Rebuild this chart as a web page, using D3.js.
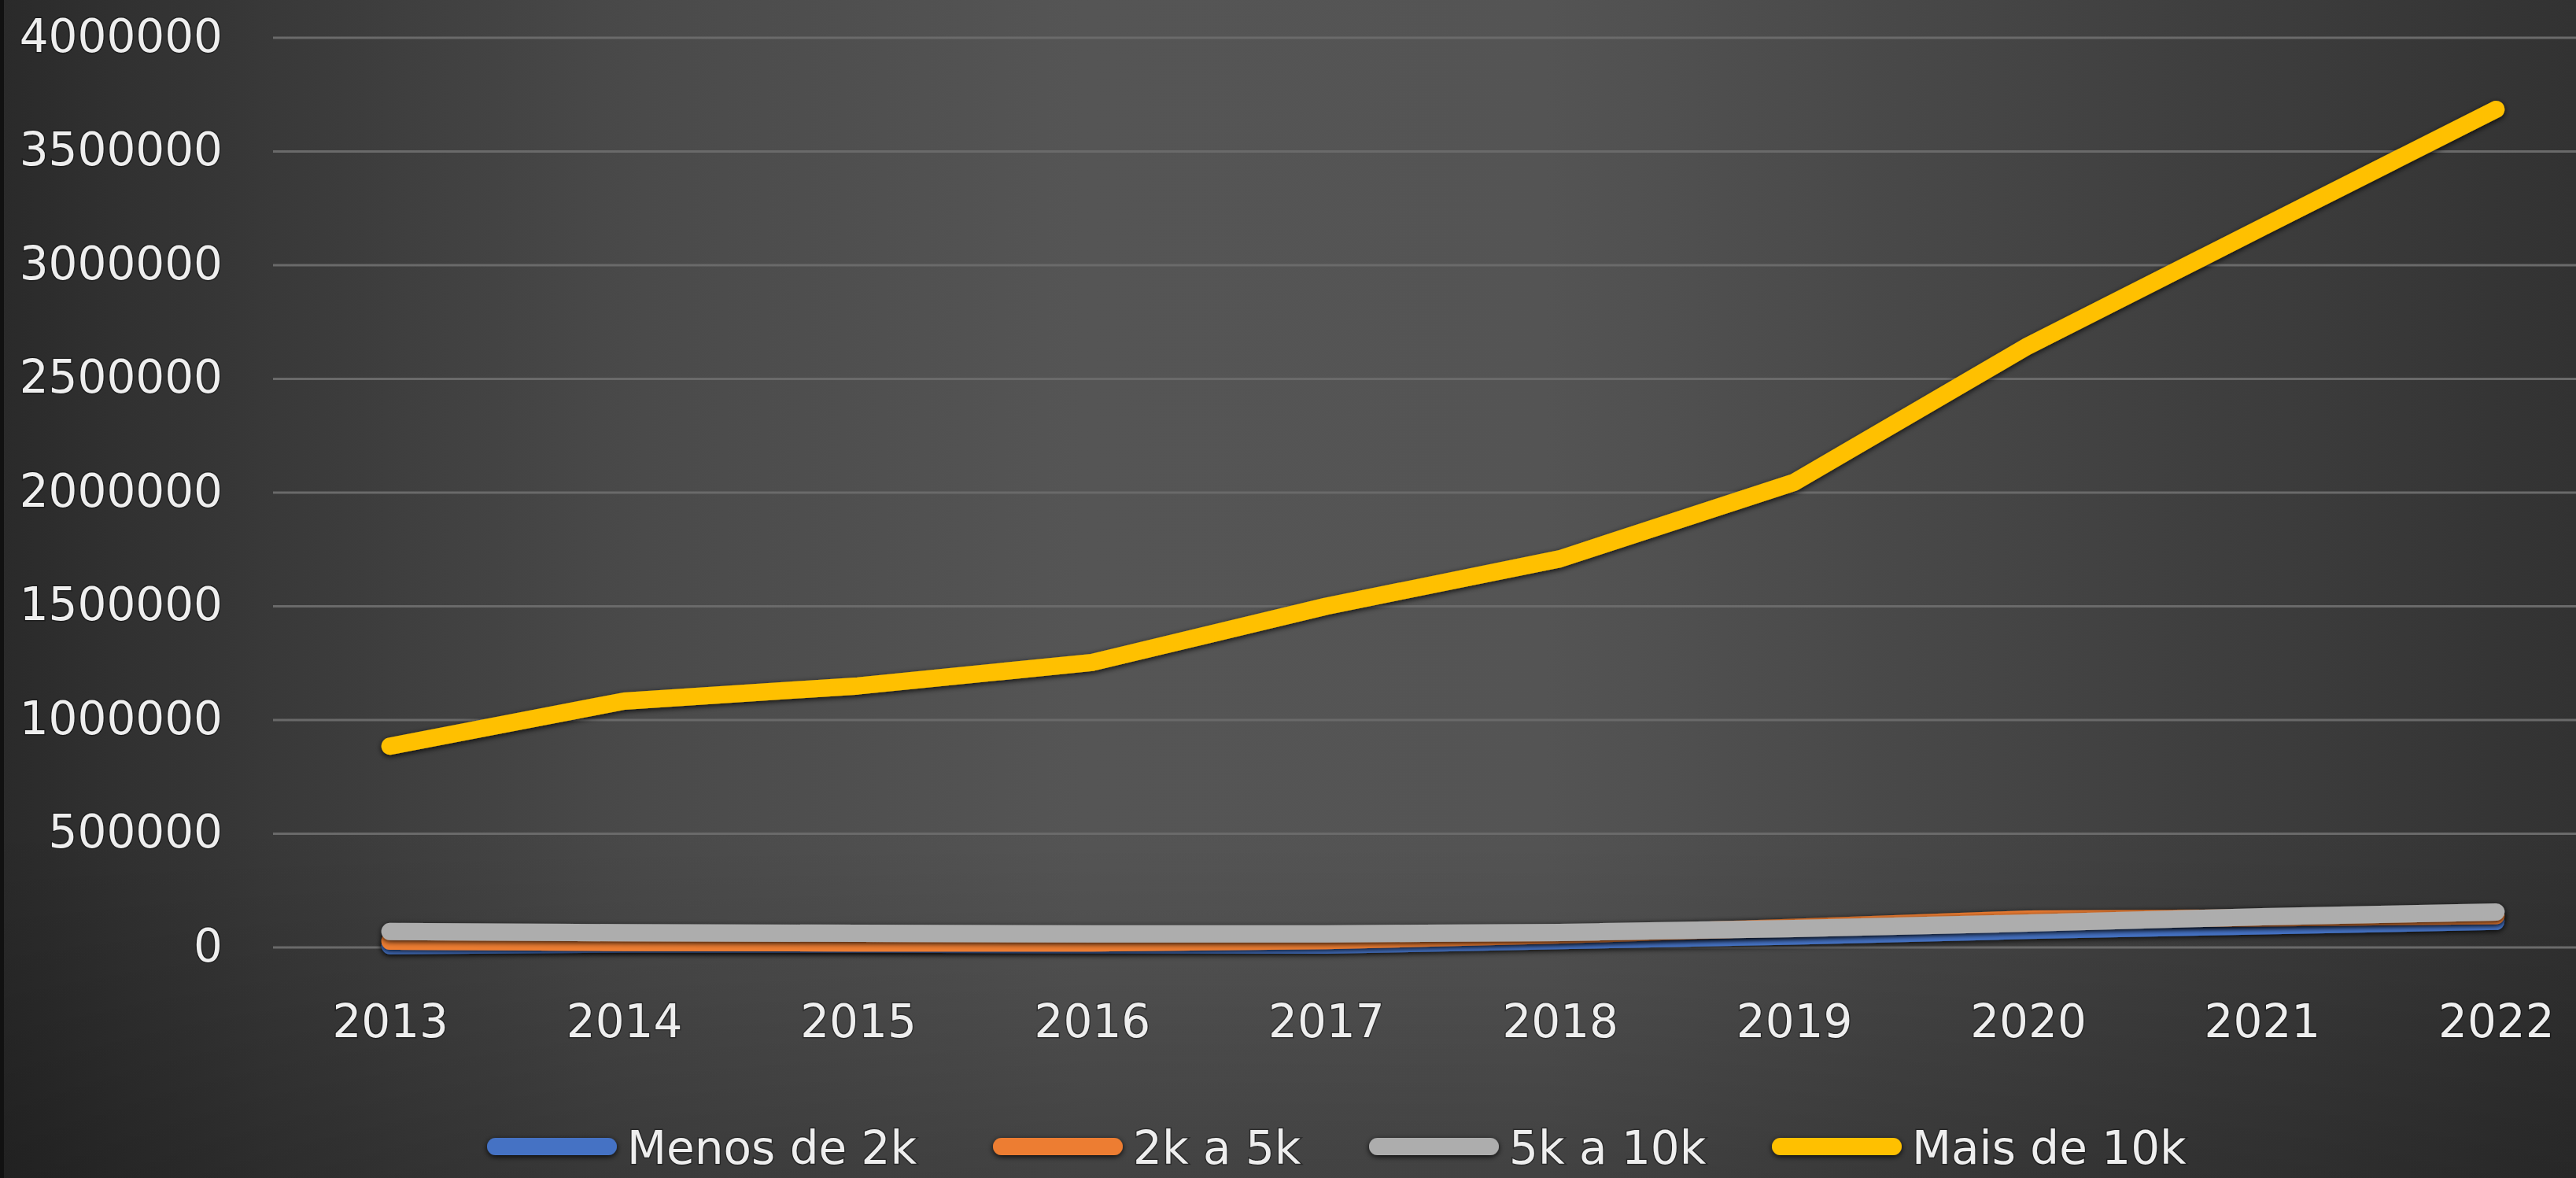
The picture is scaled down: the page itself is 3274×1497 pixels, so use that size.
<!DOCTYPE html>
<html>
<head>
<meta charset="utf-8">
<script src="https://cdn.jsdelivr.net/npm/d3@7"></script>
<style>
  html, body { margin: 0; padding: 0; background: #2b2b2b; overflow: hidden; }
  svg { display: block; }
  text { font-family: "DejaVu Sans", "Liberation Sans", sans-serif; }
</style>
</head>
<body>
<script>
// Número de registros por faixa, 2013–2022
const years = ["2013", "2014", "2015", "2016", "2017", "2018", "2019", "2020", "2021", "2022"];
const seriesNames = ["Menos de 2k", "2k a 5k", "5k a 10k", "Mais de 10k"];
const menos2k = [8000, 15000, 15000, 12000, 10000, 30000, 50000, 75000, 95000, 115000];
const de2a5k = [28000, 22000, 20000, 20000, 30000, 55000, 88000, 125000, 130000, 140000];
const de5a10k = [70000, 65000, 62000, 60000, 60000, 66000, 83000, 107000, 135000, 156000];
const mais10k = [885000, 1083000, 1150000, 1253000, 1500000, 1709000, 2045000, 2645000, 3166000, 3685000];
const yTicks = [0, 500000, 1000000, 1500000, 2000000, 2500000, 3000000, 3500000, 4000000];
const seriesColors = ["#4472C4", "#ED7D31", "#ADADAD", "#FFC000"];

const W = 3274, H = 1497;
const plot = { left: 347, right: 3321, top: 48, bottom: 1204 };

const svg = d3.select("body").append("svg")
  .attr("width", W).attr("height", H);

const defs = svg.append("defs");

// Fundo: escuro nas bordas, mais claro ao centro
const bgH = defs.append("linearGradient").attr("id", "bgH")
  .attr("x1", 0).attr("x2", 1).attr("y1", 0).attr("y2", 0);
[[0, "#2a2a2a"], [0.1, "#383838"], [0.25, "#4a4a4a"], [0.42, "#555555"],
 [0.6, "#545454"], [0.75, "#474747"], [0.9, "#3b3b3b"], [1, "#323232"]]
  .forEach(([o, c]) => bgH.append("stop").attr("offset", o).attr("stop-color", c));

const bgV = defs.append("linearGradient").attr("id", "bgV")
  .attr("x1", 0).attr("x2", 0).attr("y1", 0).attr("y2", 1);
[[0, "#000", 0], [0.7, "#000", 0], [1, "#000", 0.22]]
  .forEach(([o, c, a]) => bgV.append("stop").attr("offset", o)
    .attr("stop-color", c).attr("stop-opacity", a));

// Sombra externa das linhas (região em coordenadas do usuário, para que
// também funcione em traços perfeitamente horizontais)
const shadow = defs.append("filter").attr("id", "lineShadow")
  .attr("filterUnits", "userSpaceOnUse")
  .attr("x", -W).attr("y", -H).attr("width", 3 * W).attr("height", 3 * H);
shadow.append("feDropShadow")
  .attr("dx", 0).attr("dy", 2).attr("stdDeviation", 3.5)
  .attr("flood-color", "#000").attr("flood-opacity", 0.85);

svg.append("rect").attr("width", W).attr("height", H).attr("fill", "url(#bgH)");
svg.append("rect").attr("width", W).attr("height", H).attr("fill", "url(#bgV)");
svg.append("rect").attr("width", 5).attr("height", H).attr("fill", "#111");

const x = d3.scalePoint().domain(years).range([plot.left, plot.right]).padding(0.5);
const y = d3.scaleLinear().domain([0, 4000000]).range([plot.bottom, plot.top]);

// Linhas de grade horizontais
svg.append("g").selectAll("line").data(yTicks).join("line")
  .attr("x1", plot.left).attr("x2", W)
  .attr("y1", d => y(d)).attr("y2", d => y(d))
  .attr("stroke", "#6a6a6a").attr("stroke-width", 3);

const labelStyle = sel => sel
  .attr("fill", "#eeeeee")
  .attr("font-size", 58)
  .attr("stroke", "rgba(0,0,0,0.35)")
  .attr("stroke-width", 3)
  .attr("paint-order", "stroke");

// Eixo Y
const yAxis = d3.axisLeft(y).tickValues(yTicks).tickFormat(d3.format("d")).tickSize(0).tickPadding(0);
const gy = svg.append("g").attr("transform", "translate(283,0)").call(yAxis);
gy.select(".domain").remove();
gy.selectAll("text").call(labelStyle)
  .attr("text-anchor", "end")
  .attr("dy", null)
  .attr("y", 17);

// Eixo X
const xAxis = d3.axisBottom(x).tickSize(0).tickPadding(0);
const gx = svg.append("g").attr("transform", "translate(0,1318)").call(xAxis);
gx.select(".domain").remove();
gx.selectAll("text").call(labelStyle)
  .attr("dy", null)
  .attr("y", 0);

// Séries
const allSeries = [menos2k, de2a5k, de5a10k, mais10k];
const line = d3.line().x((d, i) => x(years[i])).y(d => y(d));

svg.append("g").selectAll("path").data(allSeries).join("path")
  .attr("d", d => line(d))
  .attr("fill", "none")
  .attr("stroke", (d, i) => seriesColors[i])
  .attr("stroke-width", 22)
  .attr("stroke-linecap", "round")
  .attr("stroke-linejoin", "round")
  .attr("filter", "url(#lineShadow)");

// Legenda
const legendItems = [
  { name: seriesNames[0], x: 630 },
  { name: seriesNames[1], x: 1273 },
  { name: seriesNames[2], x: 1751 },
  { name: seriesNames[3], x: 2263 }
];
const lg = svg.append("g").selectAll("g").data(legendItems).join("g")
  .attr("transform", d => `translate(${d.x},1457)`);
lg.append("line")
  .attr("x1", 0).attr("x2", 143).attr("y1", 0).attr("y2", 0)
  .attr("stroke", (d, i) => seriesColors[i])
  .attr("stroke-width", 22)
  .attr("stroke-linecap", "round")
  .attr("filter", "url(#lineShadow)");
lg.append("text")
  .attr("x", 167).attr("y", 22)
  .text(d => d.name)
  .call(labelStyle);
</script>
</body>
</html>
